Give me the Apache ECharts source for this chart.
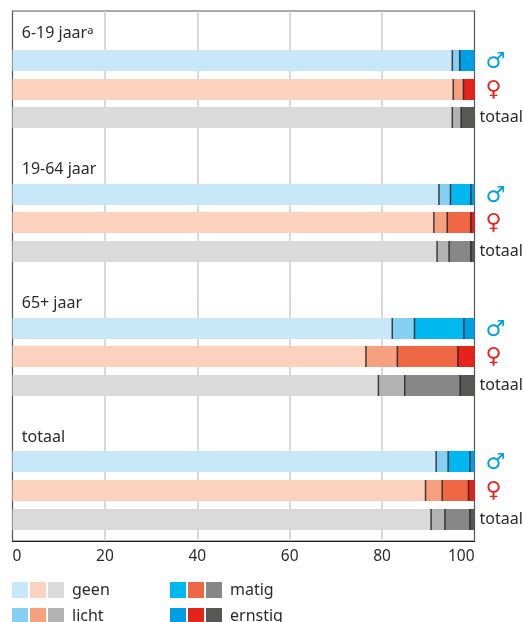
<!DOCTYPE html>
<html><head><meta charset="utf-8">
<style>html,body{margin:0;padding:0;background:#fff;overflow:hidden}#c{width:523px;height:622px}</style>
<script src="https://cdn.jsdelivr.net/npm/echarts@6/dist/echarts.min.js"></script>
</head><body><div id="c"></div>
<script>
const groupNames = ['6-19 jaarᵃ', '19-64 jaar', '65+ jaar', 'totaal'];
const rowLabels = ['♂', '♀', 'totaal'];
const tickLabels = [0, 20, 40, 60, 80, 100];
const severity = ['geen', 'licht', 'matig', 'ernstig'];
// order: per age group male, female, total
const geen    = [95.2,95.4,95.2, 92.3,91.2,91.9, 82.2,76.5,79.2, 91.7,89.4,90.6];
const licht   = [1.6,2.2,1.9, 2.5,2.9,2.6, 4.8,6.8,5.7, 2.6,3.6,3.0];
const matig   = [0,0,0, 4.4,5.1,4.7, 10.7,13.1,12.0, 4.7,5.7,5.4];
const ernstig = [3.2,2.4,2.9, 0.8,0.8,0.8, 2.3,3.6,3.1, 1.0,1.3,1.0];
const blues  = ['#c8e7f9','#85cff3','#00b8f0','#009fe3'];
const reds   = ['#fcd2bf','#f6a07f','#ef6744','#e5231b'];
const greys  = ['#dadada','#b2b2b2','#878787','#575756'];

const palettes = [blues, reds, greys];
const parts = [geen, licht, matig, ernstig];
const FONT = '"Noto Sans"';
const TEXT = '#2b2b2b';

// The plot is divided into one-pixel rows; each bar sits on its row.
const ROWS = 530;
const barRows = [49,78,106, 183,211,240, 317,345,374, 450,479,508];
const headRows = [22,158,292,426];
const rowNames = new Array(ROWS).fill('');
barRows.forEach((r, i) => { rowNames[r] = rowLabels[i % 3]; });

const barSeries = parts.map((arr, p) => ({
  name: severity[p], type: 'bar', stack: 'a', barWidth: 21, silent: true,
  encode: {x: 0, y: 1},
  data: arr.map((v, i) => ({value: [v, barRows[i]], itemStyle: {color: palettes[i % 3][p]}}))
}));

const seps = [];
geen.forEach((_, i) => {
  let c = 0;
  for (let p = 0; p < 3; p++) {
    c += parts[p][i];
    if (parts[p][i] > 0) seps.push([c, barRows[i]]);
  }
});

const legendItems = [];
const cols = [12, 170];
severity.forEach((name, s) => {
  const x = cols[s >> 1], y = (s % 2) ? 608 : 582;
  palettes.forEach((pal, k) => legendItems.push({
    type: 'rect', left: x + k * 18, top: y, silent: true,
    shape: {width: 16, height: 16}, style: {fill: pal[s]}
  }));
  legendItems.push({
    type: 'text', left: x + 60, top: y, silent: true,
    style: {text: name, font: '16px ' + FONT, fill: TEXT}
  });
});

const chart = echarts.init(document.getElementById('c'), null, {renderer: 'canvas'});
chart.setOption({
  animation: false,
  backgroundColor: '#fff',
  textStyle: {fontFamily: FONT},
  grid: {left: 12.5, right: 48.5, top: 11, bottom: 81, show: true, borderColor: '#555', borderWidth: 1.2, backgroundColor: 'transparent', outerBoundsMode: 'none', containLabel: false},
  xAxis: {
    type: 'value', min: 0, max: 100, interval: 20,
    axisLine: {show: true, lineStyle: {color: '#222', width: 1.2}},
    axisTick: {show: false},
    splitLine: {show: true, showMinLine: false, showMaxLine: false, lineStyle: {color: '#cccccc', width: 1.5}},
    axisLabel: {
      color: TEXT, fontSize: 15.5, fontFamily: FONT, margin: 8,
      alignMinLabel: 'left', alignMaxLabel: 'right',
      formatter: v => tickLabels.includes(v) ? String(v) : ''
    }
  },
  yAxis: {
    type: 'category', inverse: true, position: 'right', data: rowNames,
    axisLine: {show: false}, axisTick: {show: false}, splitLine: {show: false},
    axisLabel: {
      interval: (i, name) => name !== '', margin: 5, align: 'left', color: TEXT,
      fontSize: 16, fontFamily: FONT,
      formatter: n => n === '♂' ? '{m|♂}' : n === '♀' ? '{f|♀}' : n,
      rich: {
        m: {color: blues[3], fontSize: 22, fontFamily: '"DejaVu Sans"', padding: [3,0,0,6]},
        f: {color: reds[3], fontSize: 22, fontFamily: '"DejaVu Sans"', padding: [2,0,0,6]}
      }
    }
  },
  series: barSeries.concat([
    {
      type: 'scatter', silent: true, symbol: 'rect', symbolSize: [1.5, 21], z: 5,
      itemStyle: {color: '#222222', opacity: 0.85},
      data: seps
    },
    {
      type: 'scatter', silent: true, symbolSize: 0, z: 6,
      itemStyle: {opacity: 1},
      data: groupNames.map((g, i) => ({value: [2, headRows[i]], name: g})),
      label: {
        show: true, position: 'right', distance: 0, color: TEXT, opacity: 1, fontSize: 16, fontFamily: FONT,
        formatter: p => p.name.replace('ᵃ', '{s|a}'),
        rich: {s: {fontSize: 11, color: TEXT, fontFamily: FONT, verticalAlign: 'top'}}
      }
    }
  ]),
  graphic: legendItems
});
</script></body></html>
